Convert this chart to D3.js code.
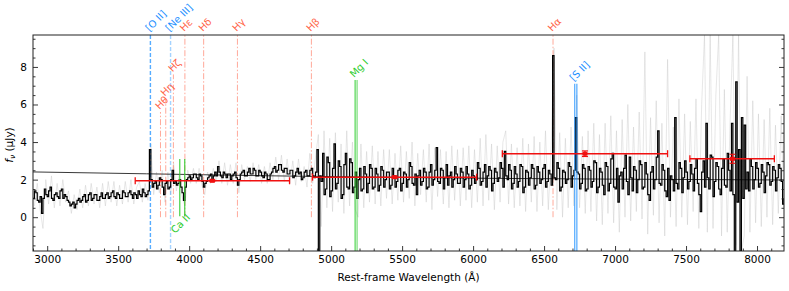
<!DOCTYPE html>
<html>
<head>
<meta charset="utf-8">
<script src="https://cdn.jsdelivr.net/npm/d3@7"></script>
<style>
  body { margin: 0; background: #fff; }
  text { font-family: "DejaVu Sans", sans-serif; }
</style>
</head>
<body>
<div id="chart"></div>
<script>
// binned spectrum on a regular 10 A grid starting at 2900 A (uJy)
var specStart = 2900, specStep = 10;
var specFlux = [
  1.0, 1.4, 1.3, 0.9, 0.8, 1.1, 0.2, 1.0, 1.5, 1.2, 1.1, 1.4, 1.6, 1.0, 0.9, 1.2, 1.3, 1.1, 1.0, 1.4,
  1.5, 1.0, 1.2, 1.1, 0.9, 0.8, 0.6, 0.7, 0.8, 0.5, 0.7, 0.9, 1.0, 0.8, 0.9, 1.1, 1.2, 0.8, 0.9, 1.2,
  1.3, 0.9, 1.0, 1.2, 1.2, 0.9, 0.9, 1.1, 1.3, 1.0,
  1.0, 1.2, 1.3, 1.0, 1.1, 1.3, 1.4, 1.1, 1.0, 1.3, 1.2, 1.0, 1.0, 1.4, 1.3, 1.1, 1.1, 1.3, 1.4, 1.2,
  1.0, 1.3, 1.2, 1.0, 1.4, 1.2, 1.1, 1.5, 1.3, 1.1, 1.2, 1.4, 3.6, 2.0, 1.6, 1.8, 1.9, 1.5, 1.7, 2.1,
  2.0, 1.6, 1.2, 1.8, 1.9, 1.5, 1.6, 2.0, 2.5, 1.8,
  1.9, 1.7, 1.8, 2.0, 1.6, 1.3, 0.9, 1.6, 2.0, 2.1, 2.2, 2.0, 2.1, 2.3, 2.3, 2.1, 2.0, 2.3, 2.2, 1.9,
  1.6, 1.8, 1.9, 2.1, 2.2, 2.3, 2.0, 2.2, 2.4, 2.2, 2.7, 2.4, 2.2, 2.1, 2.4, 2.3, 2.1, 2.3, 2.3, 2.0,
  2.2, 2.3, 2.4, 2.1, 1.7, 2.0, 2.3, 2.4, 2.5, 2.2,
  2.2, 2.4, 2.6, 2.3, 2.3, 2.6, 2.5, 2.2, 2.2, 2.5, 2.4, 2.2, 2.1, 2.4, 2.3, 2.0, 2.0, 2.3, 2.4, 2.6,
  2.7, 2.4, 2.5, 2.8, 2.8, 2.5, 2.4, 2.6, 2.6, 2.3, 2.3, 2.5, 2.5, 2.1, 2.2, 2.4, 2.6, 2.3, 2.4, 2.0,
  2.1, 2.4, 2.5, 2.2, 2.2, 2.5, 2.6, 2.2, 2.1, 2.4,
  3.6, -1.8, 2.2, 1.9, 3.4, 1.2, 1.5, 3.2, 2.9, 1.1, 1.4, 2.6, 3.9, 1.5, 1.8, 3.0, 2.7, 1.0, 1.2, 2.8,
  3.4, 1.6, 1.5, 3.1, 2.9, 1.3, 1.6, 2.4, 1.0, 2.0, 2.6, 1.4, 1.5, 2.7, 2.3, 1.3, 1.8, 2.8, 2.6, 1.5,
  1.6, 2.6, 2.3, 1.4, 1.7, 2.7, 2.5, 1.6, 2.0, 2.4,
  2.4, 1.5, 1.7, 2.6, 2.2, 1.6, 1.9, 2.5, 2.6, 1.4, 1.8, 2.4, 2.3, 1.6, 2.0, 2.9, 2.7, 1.8, 1.7, 2.3,
  1.2, 2.2, 2.5, 1.7, 1.9, 2.6, 2.4, 1.5, 1.6, 2.4, 2.8, 1.7, 2.0, 2.5, 3.7, 1.9, 1.8, 2.6, 2.5, 1.5,
  2.1, 2.8, 1.7, 2.2, 2.4, 1.6, 2.0, 2.7, 2.3, 1.8,
  1.8, 2.6, 2.4, 1.6, 2.0, 2.7, 2.3, 1.5, 1.7, 2.5, 2.2, 1.8, 2.0, 2.9, 2.6, 1.7, 1.9, 2.4, 2.8, 1.6,
  2.2, 2.7, 2.5, 1.4, 1.8, 2.6, 2.4, 1.9, 2.1, 2.9, 2.6, 1.6, 3.5, 2.2, 2.0, 2.8, 2.5, 1.5, 1.8, 2.7,
  2.3, 1.6, 1.9, 2.8, 2.7, 1.3, 1.6, 2.5, 2.4, 1.7,
  2.1, 2.8, 2.6, 1.5, 1.7, 2.7, 2.4, 1.8, 2.0, 2.6, 2.8, 1.6, 1.9, 2.5, 2.3, 1.7, 8.6, 2.1, 2.0, 2.9,
  2.6, 1.4, 1.6, 2.5, 2.4, 1.8, 2.0, 2.9, 2.7, 1.6, 2.2, 2.5, 5.3, 2.4, 2.3, 1.5, 1.8, 2.8, 2.6, 1.4,
  1.5, 2.7, 2.5, 1.6, 1.9, 3.0, 2.9, 1.3, 1.6, 2.6,
  2.4, 1.7, 1.2, 2.9, 2.7, 1.4, 1.8, 3.1, 3.4, 1.6, 1.5, 2.6, 0.8, 2.2, 2.4, 1.5, 2.6, 3.3, 1.9, 1.2,
  3.2, 2.1, 1.4, 2.7, 2.5, 1.3, 2.0, 3.0, 2.8, 1.5, 1.6, 2.9, 2.3, 1.2, 0.9, 2.4, 2.7, 1.5, 2.0, 3.2,
  4.6, 1.8, 1.7, 2.8, 2.5, 1.4, 1.1, 2.6, 0.9, 2.2,
  2.0, 1.4, 5.3, 1.8, 1.5, 2.9, 2.6, 1.3, 2.1, 3.0, 2.4, 1.5, 1.9, 2.8, 2.3, 1.4, 2.6, 3.1, 1.8, 1.2,
  0.3, 2.4, 3.0, 1.6, 5.0, 2.1, 1.5, 3.3, 3.2, 1.1, 1.9, 2.9, 2.7, 1.5, 1.2, 2.6, 3.1, 1.7, 1.6, 3.4,
  2.5, 1.4, 5.0, 1.2, -1.8, 7.2, 0.8, 3.6, -1.8, 5.3,
  1.0, 4.9, 1.5, 2.4, 1.4, 3.1, 2.7, 1.5, 2.0, 2.9, 2.6, 1.6, 1.8, 2.8, 2.4, 1.3, 2.2, 2.9, 2.8, 1.7,
  1.9, 2.7, 2.5, 1.4, 2.1, 2.8, 2.6, 1.9, 0.7, 1.0
];

// unbinned spectrum (light grey, 20 A grid starting at 2910 A)
var rawStart = 2910, rawStep = 20;
var rawFlux = [
  0.6, 1.8, 0.4, -0.6, 2.0, 0.7, 2.2, 0.5, 1.8, 0.6, 2.0, 0.8, 1.4, 0.2, 1.2, 0.4, 1.5, 0.5, 1.7, 0.6, 1.8, 0.7, 1.6, 0.5, 1.8,
  0.6, 1.9, 0.8, 1.9, 0.6, 1.7, 0.7, 1.9, 0.8, 2.0, 0.7, 1.6, 1.9, 0.8, 1.8, 0.9, 3.9, 1.2, 2.4, 1.3, 2.5, 0.8, 2.4, 1.2, 2.9,
  1.4, 2.3, 1.1, 0.6, 2.5, 1.8, 2.6, 1.8, 2.6, 1.7, 1.2, 2.4, 1.8, 2.6, 1.9, 3.0, 1.8, 2.9, 1.7, 2.8, 1.8, 2.9, 1.3, 2.8, 2.0,
  2.7, 1.9, 2.9, 2.0, 2.8, 1.8, 2.7, 1.8, 2.9, 2.0, 3.2, 2.0, 3.3, 1.9, 3.1, 1.8, 3.0, 1.7, 3.1, 1.9, 2.7, 1.6, 3.4, 1.8, 3.2,
  4.4, -0.5, 4.6, 0.5, 4.2, 0.3, 4.5, 0.8, 3.9, 0.2, 4.6, 0.6, 4.0, 0.4, 0.0, 3.9, 0.5, 3.5, 0.8, 3.8, 0.7, 3.5, 0.6, 3.6, 1.0,
  3.6, 0.7, 3.4, 0.9, 3.8, 0.8, 3.5, 1.0, 4.0, 0.6, 3.4, 1.2, 3.6, 0.8, 3.9, 0.4, 3.7, 1.1, 3.6, 0.7, 3.5, 0.5, 3.8, 0.9, 3.6,
  0.6, 3.7, 0.9, 3.8, 0.5, 3.6, 0.8, 4.2, 0.6, 4.4, 0.9, 3.9, 0.4, 3.8, 0.8, 4.0, 4.6, 0.7, 3.9, 0.5, 3.7, 0.6, 4.2, 0.3, 3.9,
  0.8, 4.3, 0.3, 4.0, 0.6, 4.6, 0.4, 3.8, 9.0, 0.4, 4.5, 0.0, 4.2, 0.5, 4.8, 0.6, 6.5, 0.5, 4.3, 0.2, 4.6, 0.3, 5.0, -0.2, 4.4,
  -0.4, 5.0, 0.2, 5.4, -0.3, 4.6, -0.8, 5.2, 0.0, 6.0, -0.2, 4.8, 0.3, 5.6, -0.1, 8.8, -0.9, 5.3, 0.1, 6.2, -0.3, 5.0, -1.0, 8.4, 0.0,
  4.8, -0.5, 6.3, 0.0, 5.5, -0.4, 5.1, 0.3, 6.3, -0.6, 6.0, 9.7, -0.8, 9.7, -0.6, 6.5, 9.7, -1.0, 6.8, -0.8, 5.0, 9.7, -1.5, 9.7, -1.8,
  -1.0, 7.5, -0.8, 6.2, -0.3, 5.5, -0.5, 5.2, 0.0, 5.8, -0.4, 4.9, 0.2, 5.4, 0.5
];

// thin continuum model
var contWave = [2900, 3700, 4500, 5300, 6100, 6900, 7700, 8190];
var contFlux = [2.41, 2.31, 2.21, 2.13, 2.07, 2.03, 2.00, 1.98];

// photometry: central wavelength, filter edges, flux, flux error
var photWave = [4163, 5447, 6788, 7827];
var photLo   = [3620, 4869, 6206, 7527];
var photHi   = [4707, 6025, 7370, 8122];
var photFlux = [1.94, 2.13, 3.38, 3.11];
var photErr  = [0.04, 0.05, 0.15, 0.24];

// Balmer lines (top of marker in flux units)
var balmerNames = ["H\u03b1", "H\u03b2", "H\u03b3", "H\u03b4", "H\u03b5", "H\u03b6", "H\u03b7", "H\u03b8"];
var balmerWaves = [6563, 4861, 4340, 4102, 3970, 3889, 3835, 3798];
var balmerTops  = [9.7, 9.7, 9.7, 9.7, 9.7, 7.6, 6.3, 5.6];

// forbidden lines
var oxyNames = ["[O II]", "[Ne III]"];
var oxyWaves = [3727, 3869];
var siiWaves = [6716, 6731];
var siiTop = 7.1;

// absorption features
var caWaves = [3934, 3969];
var caRange = [0.05, 3.1];
var mgWaves = [5167, 5173, 5184];
var mgTop = 7.3;

var xTicks = [3000, 3500, 4000, 4500, 5000, 5500, 6000, 6500, 7000, 7500, 8000];
var yTicks = [0, 2, 4, 6, 8];

var W = 789, H = 291;
var margin = { top: 35, right: 5, bottom: 40, left: 33 },
    width = W - margin.left - margin.right,
    height = H - margin.top - margin.bottom;

var x = d3.scaleLinear().domain([2900, 8190]).range([0, width]);
var y = d3.scaleLinear().domain([-1.8, 9.7]).range([height, 0]);

var svg = d3.select("#chart").append("svg")
    .attr("width", W).attr("height", H);

var g = svg.append("g")
    .attr("transform", "translate(" + margin.left + "," + margin.top + ")");

g.append("defs").append("clipPath").attr("id", "clip")
  .append("rect").attr("width", width).attr("height", height);

var plot = g.append("g").attr("clip-path", "url(#clip)");

var spec = specFlux.map(function (v, i) { return { w: specStart + i * specStep, f: v }; });
var raw = rawFlux.map(function (v, i) { return { w: rawStart + i * rawStep, f: v }; });

var stepLine = d3.line()
    .x(function (d) { return x(d.w); })
    .y(function (d) { return y(d.f); })
    .curve(d3.curveStepAfter);

// grey raw spectrum
plot.append("path").datum(raw)
    .attr("d", d3.line().x(function (d) { return x(d.w); }).y(function (d) { return y(d.f); }))
    .attr("fill", "none").attr("stroke", "#c8c8c8")
    .attr("stroke-opacity", 0.55).attr("stroke-width", 0.8);

// continuum
plot.append("path").datum(contWave.map(function (w, i) { return { w: w, f: contFlux[i] }; }))
    .attr("d", d3.line().x(function (d) { return x(d.w); }).y(function (d) { return y(d.f); }))
    .attr("fill", "none").attr("stroke", "#222").attr("stroke-width", 0.9);

// Balmer markers
var red = "#ff6347";
balmerWaves.forEach(function (w, i) {
  plot.append("line")
      .attr("x1", x(w)).attr("x2", x(w))
      .attr("y1", y(0)).attr("y2", y(balmerTops[i]))
      .attr("stroke", red).attr("stroke-opacity", 0.55)
      .attr("stroke-width", 1).attr("stroke-dasharray", "6,2,1.5,2");
  var ty = balmerTops[i] >= 9.7 ? -3 : y(balmerTops[i]) - 2;
  g.append("text")
      .attr("transform", "translate(" + (x(w) - 1) + "," + ty + ") rotate(-45)")
      .attr("font-size", 10).attr("fill", red)
      .text(balmerNames[i]);
});

// [O II], [Ne III]
oxyWaves.forEach(function (w, i) {
  plot.append("line")
      .attr("x1", x(w)).attr("x2", x(w))
      .attr("y1", 0).attr("y2", height)
      .attr("stroke", "#1e90ff").attr("stroke-opacity", i == 0 ? 0.75 : 0.4)
      .attr("stroke-width", 1.4).attr("stroke-dasharray", "4,2");
  g.append("text")
      .attr("transform", "translate(" + (x(w) - 1) + ",-3) rotate(-45)")
      .attr("font-size", 10).attr("fill", "#1e90ff")
      .text(oxyNames[i]);
});

// binned spectrum
plot.append("path").datum(spec)
    .attr("d", stepLine)
    .attr("fill", "none").attr("stroke", "#000").attr("stroke-width", 1.2);

// Ca II H&K
caWaves.forEach(function (w) {
  plot.append("line")
      .attr("x1", x(w)).attr("x2", x(w))
      .attr("y1", y(caRange[0])).attr("y2", y(caRange[1]))
      .attr("stroke", "#32cd32").attr("stroke-width", 1.1);
});
g.append("text")
    .attr("transform", "translate(" + (x(caWaves[1]) + 6) + "," + (y(caRange[0]) + 2) + ") rotate(-45)")
    .attr("font-size", 10).attr("fill", "#32cd32").attr("text-anchor", "end")
    .text("Ca II");

// Mg I
mgWaves.forEach(function (w) {
  plot.append("line")
      .attr("x1", x(w)).attr("x2", x(w))
      .attr("y1", height).attr("y2", y(mgTop))
      .attr("stroke", "#32cd32").attr("stroke-opacity", 0.5).attr("stroke-width", 1.3);
});
g.append("text")
    .attr("transform", "translate(" + (x(5175) - 2) + "," + (y(mgTop) - 2) + ") rotate(-45)")
    .attr("font-size", 10).attr("fill", "#32cd32")
    .text("Mg I");

// [S II]
siiWaves.forEach(function (w) {
  plot.append("line")
      .attr("x1", x(w)).attr("x2", x(w))
      .attr("y1", height).attr("y2", y(siiTop))
      .attr("stroke", "#1e90ff").attr("stroke-opacity", 0.85).attr("stroke-width", 1.1);
});
g.append("text")
    .attr("transform", "translate(" + (x(6723) - 2) + "," + (y(siiTop) - 2) + ") rotate(-45)")
    .attr("font-size", 10).attr("fill", "#1e90ff")
    .text("[S II]");

// photometry
var phot = plot.append("g").attr("stroke", "#f01010").attr("fill", "none");
photWave.forEach(function (w, i) {
  var py = y(photFlux[i]);
  phot.append("line").attr("x1", x(photLo[i])).attr("x2", x(photHi[i]))
      .attr("y1", py).attr("y2", py).attr("stroke-width", 1.6);
  [photLo[i], photHi[i]].forEach(function (e) {
    phot.append("line").attr("x1", x(e)).attr("x2", x(e))
        .attr("y1", py - 3.5).attr("y2", py + 3.5).attr("stroke-width", 1.3);
  });
  phot.append("line").attr("x1", x(w)).attr("x2", x(w))
      .attr("y1", y(photFlux[i] - photErr[i])).attr("y2", y(photFlux[i] + photErr[i]))
      .attr("stroke-width", 1.3);
  [photFlux[i] - photErr[i], photFlux[i] + photErr[i]].forEach(function (e) {
    phot.append("line").attr("x1", x(w) - 3).attr("x2", x(w) + 3)
        .attr("y1", y(e)).attr("y2", y(e)).attr("stroke-width", 1.1);
  });
  phot.append("rect").attr("x", x(w) - 2).attr("y", py - 1.5)
      .attr("width", 4).attr("height", 3).attr("fill", "#f01010");
});

// axes
function styleAxis(sel) {
  sel.select(".domain").remove();
  sel.selectAll(".tick line").attr("stroke", "#222").attr("stroke-width", 0.9);
  sel.selectAll("text").attr("font-size", 10.5).attr("fill", "#000")
     .attr("font-family", "DejaVu Sans, sans-serif");
}

var minorX = d3.range(2900, 8200, 100).filter(function (v) { return v % 500 != 0; });
var minorY = d3.range(-1.5, 9.6, 0.5).filter(function (v) { return v % 2 != 0; });

g.append("g").attr("transform", "translate(0," + height + ")")
  .call(d3.axisBottom(x).tickValues(xTicks).tickFormat(d3.format("d")).tickSize(-5).tickPadding(5))
  .call(styleAxis);
g.append("g").attr("transform", "translate(0," + height + ")")
  .call(d3.axisBottom(x).tickValues(minorX).tickFormat("").tickSize(-2.5))
  .call(styleAxis);

g.append("g")
  .call(d3.axisLeft(y).tickValues(yTicks).tickSize(-5).tickPadding(6))
  .call(styleAxis);
g.append("g")
  .call(d3.axisLeft(y).tickValues(minorY).tickFormat("").tickSize(-2.5))
  .call(styleAxis);

g.append("g").attr("transform", "translate(" + width + ",0)")
  .call(d3.axisRight(y).tickValues(yTicks).tickFormat("").tickSize(-5))
  .call(styleAxis);
g.append("g").attr("transform", "translate(" + width + ",0)")
  .call(d3.axisRight(y).tickValues(minorY).tickFormat("").tickSize(-2.5))
  .call(styleAxis);

// frame
g.append("rect").attr("width", width).attr("height", height)
    .attr("fill", "none").attr("stroke", "#222").attr("stroke-width", 1);

// axis labels
svg.append("text")
    .attr("x", margin.left + width / 2).attr("y", 281)
    .attr("text-anchor", "middle").attr("font-size", 10.5)
    .text("Rest-frame Wavelength (\u00c5)");

var yl = svg.append("text")
    .attr("transform", "translate(13," + (margin.top + height / 2 + 2) + ") rotate(-90)")
    .attr("text-anchor", "middle").attr("font-size", 10.5);
yl.append("tspan").attr("font-style", "italic").text("f");
yl.append("tspan").attr("font-style", "italic").attr("font-size", 7.5).attr("dy", 2).text("\u03bd");
yl.append("tspan").attr("dy", -2).text(" (\u03bcJy)");
</script>
</body>
</html>
